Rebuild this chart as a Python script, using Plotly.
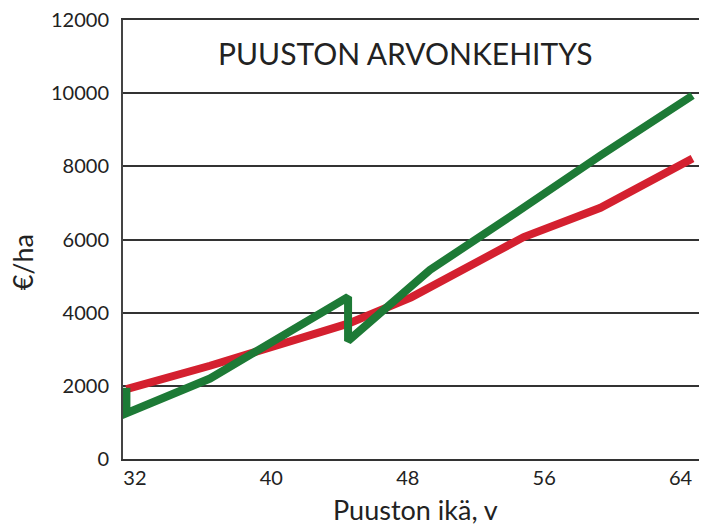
import plotly.graph_objects as go

# Data
red_age = [31.5, 36.4, 44.5, 48.2, 54.8, 59.3, 64.7]
red_value = [1910, 2550, 3700, 4420, 6070, 6870, 8220]

green_age = [31.5, 31.5, 36.4, 44.5, 44.5, 49.3, 54.3, 59.3, 64.7]
green_value = [1950, 1250, 2200, 4430, 3230, 5170, 6720, 8300, 9940]

x_ticks = [32, 40, 48, 56, 64]
y_ticks = [0, 2000, 4000, 6000, 8000, 10000, 12000]

title_text = "PUUSTON ARVONKEHITYS"
x_title = "Puuston ikä, v"
y_title = "€/ha"

FONT = "Lato"
RED = "#d4202f"
GREEN = "#1d7a36"

fig = go.Figure()
fig.add_trace(go.Scatter(x=red_age, y=red_value, mode="lines",
                         line=dict(color=RED, width=8), showlegend=False))
fig.add_trace(go.Scatter(x=green_age, y=green_value, mode="lines",
                         line=dict(color=GREEN, width=8), showlegend=False))

fig.update_layout(
    width=707, height=527,
    margin=dict(l=115, r=8, t=12, b=76),
    paper_bgcolor="white", plot_bgcolor="white",
    font=dict(family=FONT, color="#222"),
    xaxis=dict(range=[31.3, 65.55], tickvals=x_ticks, ticktext=[str(v) for v in x_ticks],
               showgrid=False, zeroline=False, showline=True, linecolor="#333", linewidth=2,
               mirror=True,
               tickfont=dict(size=20, family=FONT), ticks="", ticklabelstandoff=0,
               ticklabeloverflow="allow", automargin=False),
    yaxis=dict(range=[0, 12005], tickvals=y_ticks, ticktext=[str(v) for v in y_ticks],
               showgrid=True, gridcolor="#333", gridwidth=1.5, zeroline=False,
               showline=True, linecolor="#444", linewidth=2,
               tickfont=dict(size=20, family=FONT), ticks="", ticklabelstandoff=8,
               ticklabeloverflow="allow", automargin=False),
    annotations=[
        dict(text=title_text, xref="paper", yref="paper", x=0.483, y=0.925,
             showarrow=False, font=dict(size=30, family=FONT, color="#222"),
             xanchor="center", yanchor="middle"),
        dict(text=x_title, xref="paper", yref="paper", x=0.501, y=-0.115,
             showarrow=False, font=dict(size=27, family=FONT, color="#222"),
             xanchor="center", yanchor="middle"),
        dict(text=y_title, xref="paper", yref="paper", x=-0.172, y=0.447,
             showarrow=False, font=dict(size=27, family=FONT, color="#222"),
             xanchor="center", yanchor="middle", textangle=-90),
    ],
)

fig.write_html("out.html")
